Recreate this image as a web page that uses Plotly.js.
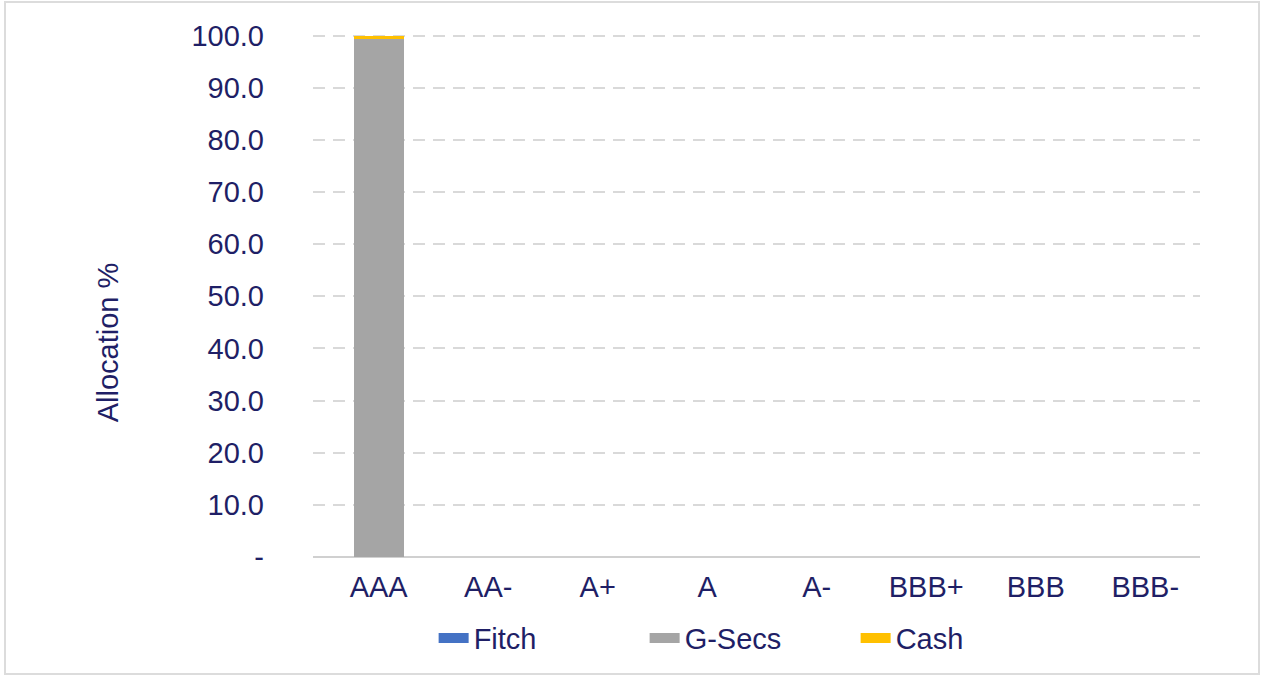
<!DOCTYPE html>
<html>
<head>
<meta charset="utf-8">
<script src="https://cdn.plot.ly/plotly-3.0.1.min.js"></script>
<style>
  html, body { margin: 0; padding: 0; background: #ffffff; }
  #frame { position: absolute; left: 4px; top: 1px; width: 1256px; height: 674px; border: 2px solid #dcdcdc; box-sizing: border-box; pointer-events: none; }
  #chart { width: 1264px; height: 679px; }
</style>
</head>
<body>
<div id="chart"></div>
<div id="frame"></div>
<script>
const categories = ["AAA", "AA-", "A+", "A", "A-", "BBB+", "BBB", "BBB-"];
const seriesNames = ["Fitch", "G-Secs", "Cash"];
const fitchValues = [0, 0, 0, 0, 0, 0, 0, 0];
const gsecValues = [99.3, 0, 0, 0, 0, 0, 0, 0];
const cashValues = [0.7, 0, 0, 0, 0, 0, 0, 0];
const yTickVals = [0, 10, 20, 30, 40, 50, 60, 70, 80, 90, 100];
const yTickText = ["-", "10.0", "20.0", "30.0", "40.0", "50.0", "60.0", "70.0", "80.0", "90.0", "100.0"];
const seriesColors = ["#4472c4", "#a5a5a5", "#ffc000"];

const navy = "#1f1f66";
const font = "Liberation Sans, Arial, sans-serif";
const fs = 29;

const seriesValues = [fitchValues, gsecValues, cashValues];
const traces = [];
seriesNames.forEach((name, i) => {
  traces.push({ type: "bar", name: name, legendgroup: name, showlegend: false,
    x: categories, y: seriesValues[i], marker: { color: seriesColors[i] }, width: 0.46 });
});
seriesNames.forEach((name, i) => {
  traces.push({ type: "scatter", mode: "lines", name: name, legendgroup: name, showlegend: true,
    x: [null], y: [null], line: { color: seriesColors[i], width: 10 }, hoverinfo: "skip" });
});

const layout = {
  width: 1264, height: 679,
  margin: { l: 313, r: 64, t: 33, b: 122 },
  barmode: "stack",
  paper_bgcolor: "#ffffff",
  plot_bgcolor: "#ffffff",
  font: { family: font, color: navy, size: fs },
  showlegend: true,
  legend: {
    orientation: "h",
    x: 0.136, xanchor: "left",
    yref: "container",
    y: 0.06, yanchor: "middle",
    entrywidth: 166, entrywidthmode: "pixels",
    font: { family: font, size: fs, color: navy },
    traceorder: "normal"
  },
  xaxis: {
    type: "category",
    range: [-0.6, 7.5],
    showgrid: false,
    showline: false,
    zeroline: false,
    ticks: "",
    tickfont: { family: font, size: fs, color: navy },
    ticklabelstandoff: 10
  },
  yaxis: {
    range: [0, 100.5],
    tickvals: yTickVals,
    ticktext: yTickText,
    showgrid: true,
    gridcolor: "#d9d9d9",
    gridwidth: 2,
    griddash: "12px,8px",
    zeroline: true,
    zerolinecolor: "#d0d0d0",
    zerolinewidth: 2,
    showline: false,
    ticks: "",
    ticklabelstandoff: 48,
    tickfont: { family: font, size: fs, color: navy }
  },
  annotations: [{
    text: "Allocation %",
    xref: "paper", yref: "paper",
    x: -0.231, y: 0.41,
    xanchor: "center", yanchor: "middle",
    textangle: -90,
    showarrow: false,
    font: { family: font, size: fs, color: navy }
  }]
};

Plotly.newPlot("chart", traces, layout, { displayModeBar: false, staticPlot: true });
</script>
</body>
</html>
